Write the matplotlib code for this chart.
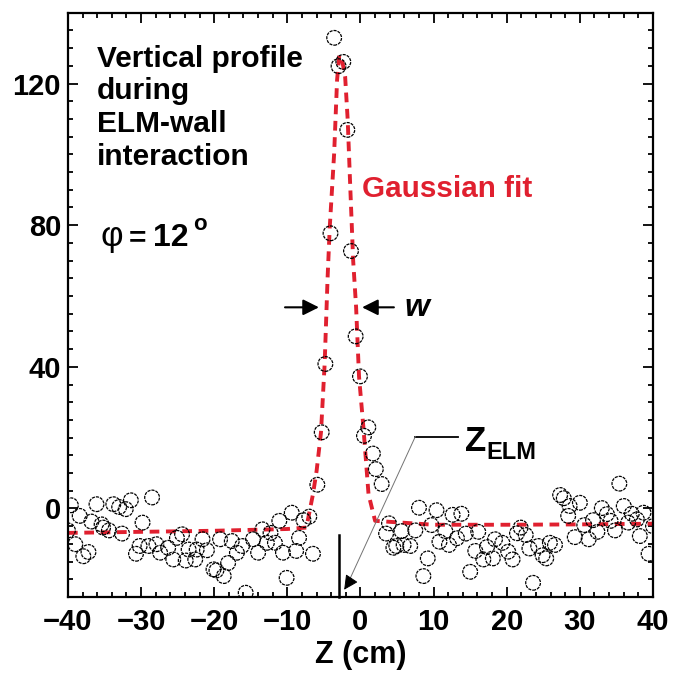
import matplotlib
matplotlib.use('Agg')
import matplotlib.pyplot as plt
from matplotlib import font_manager

# scattered points
z_pts = [-40.0, -39.6, -39.0, -38.4, -37.9, -37.2, -36.8, -36.1, -35.4, -35.2,
         -34.4, -33.8, -33.0, -32.6, -32.1, -31.4, -30.7, -30.2, -29.8, -29.0,
         -28.5, -27.9, -27.4, -26.3, -25.6, -25.1, -24.4, -23.9, -23.5, -22.6,
         -22.4, -21.6, -21.0, -20.1, -19.7, -19.2, -18.7, -18.1, -17.6, -16.9,
         -16.2, -15.7, -14.7, -14.0, -13.4, -12.8, -12.3, -11.7, -11.1, -10.6,
         -10.1, -9.4, -8.8, -8.4, -7.8, -7.0, -6.5, -5.9, -5.3, -4.8,
         -4.1, -3.6, -3.0, -2.35, -1.8, -1.3, -0.66, -0.07, 0.48, 1.07,
         1.7, 2.1, 2.9, 3.5, 3.9, 4.5, 4.9, 5.6, 5.9, 6.8,
         7.5, 8.0, 8.6, 9.2, 9.7, 10.4, 10.8, 11.6, 12.1, 12.6,
         13.2, 13.8, 14.4, 15.0, 15.7, 16.1, 16.8, 17.3, 18.1, 18.4,
         19.4, 20.2, 20.8, 21.4, 21.9, 22.6, 23.1, 23.6, 24.3, 24.9,
         25.4, 25.9, 26.6, 27.3, 27.8, 28.4, 28.6, 29.3, 30.0, 30.6,
         31.2, 31.8, 32.4, 33.0, 33.7, 34.2, 34.8, 35.4, 36.0, 36.6,
         37.1, 37.8, 38.2, 38.7, 39.4, 40.0]
sig_pts = [-6.2, 0.9, -10.1, -2.1, -13.5, -12.3, -3.7, 1.2, -4.5, -5.4,
           -6.2, 1.2, 0.4, -7.1, -0.2, 2.3, -12.8, -10.6, -4.0, -10.6,
           3.1, -10.1, -12.5, -11.1, -14.4, -8.3, -7.3, -14.7, -11.6, -14.4,
           -11.6, -8.7, -11.8, -17.2, -17.5, -8.7, -19.1, -15.4, -9.2, -12.5,
           -10.6, -23.8, -8.7, -12.5, -5.9, -9.7, -6.9, -9.7, -3.5, -12.5,
           -19.6, -1.2, -12.0, -8.3, -3.3, -2.3, -12.8, 6.7, 21.5, 40.8,
           77.7, 132.9, 124.9, 126.1, 106.9, 72.7, 48.6, 37.3, 20.5, 22.9,
           15.5, 11.1, 6.9, -7.1, -4.2, -11.1, -10.6, -6.4, -10.3, -10.6,
           -6.2, 0.2, -19.1, -14.1, -4.7, -0.5, -9.4, -6.4, -10.3, -1.8,
           -8.4, -1.5, -7.1, -17.9, -12.0, -6.6, -14.4, -10.9, -14.1, -8.7,
           -9.7, -12.2, -14.4, -7.0, -5.4, -7.5, -11.3, -21.0, -10.6, -13.2,
           -14.1, -9.7, -10.3, 3.8, 2.9, -2.1, 0.7, -8.1, 1.6, -4.7,
           -8.7, -3.3, -6.6, 0.1, -1.6, -3.5, -6.2, 7.0, 0.7, -4.0,
           -1.5, -3.1, -7.8, -1.2, -12.8, -5.0]

# dashed fit curve, vertices
fit_z = [-40, -30, -20, -10, -7.4, -6.5, -6.0, -5.4, -4.9, -4.5, -4.2, -3.6,
         -3.2, -2.9, -2.6, -2.1, -1.75, -1.4, -1.0, -0.6, -0.2, 0.4, 1.1, 2.0,
         10, 20, 30, 40]
fit_y = [-6.9, -6.6, -6.3, -5.8, -5.4, 4.0, 10.6, 21.5, 40.8, 65, 79.5, 100.3,
         121, 128, 127.5, 122, 109.8, 90.9, 70, 56.9, 37.3, 22.9, 4.0, -3.5,
         -4.6, -4.6, -4.5, -4.3]

xticks = [-40, -30, -20, -10, 0, 10, 20, 30, 40]
xlabels = ['\u221240', '\u221230', '\u221220', '\u221210', '0', '10', '20', '30', '40']
yticks = [0, 40, 80, 120]

names = {f.name for f in font_manager.fontManager.ttflist}
fam = 'Liberation Sans Narrow' if 'Liberation Sans Narrow' in names else 'Liberation Sans'
plt.rcParams['font.family'] = [fam, 'DejaVu Sans']
plt.rcParams['font.weight'] = 'bold'

red = '#e0202f'

fig = plt.figure(figsize=(6.79, 6.90), dpi=100)
ax = fig.add_axes([0.1001, 0.1348, 0.8616, 0.8468])

ax.plot(fit_z, fit_y, color=red, lw=2.8, dashes=(2.5, 1.7), zorder=2)
ax.scatter(z_pts, sig_pts, s=112, facecolors='none', edgecolors='black',
           linewidths=0.9, linestyles=(0, (2.5, 0.8)), zorder=3)

ax.set_xlim(-40, 40)
ax.set_ylim(-25, 140)
ax.set_xticks(xticks)
ax.set_xticklabels(xlabels)
ax.set_yticks(yticks)
ax.set_xticks(range(-40, 41, 2), minor=True)
ax.set_yticks(range(-25, 141, 5), minor=True)
ax.tick_params(which='both', direction='in', top=True, right=True, width=1.3,
               labelsize=21)
ax.tick_params(which='major', length=7)
ax.tick_params(which='minor', length=3.5)
ax.tick_params(axis='x', pad=8)
ax.tick_params(axis='y', pad=5)
for s in ax.spines.values():
    s.set_linewidth(1.6)
ax.set_xlabel('Z (cm)', fontsize=22, fontweight='bold', labelpad=3)

ax.text(-36.0, 131.0, 'Vertical profile\nduring\nELM-wall\ninteraction',
        fontsize=21.5, va='top', ha='left', linespacing=1.22)
ax.text(-35.6, 74.0, '\u03c6', fontsize=25, weight='normal', va='baseline')
ax.text(-31.7, 74.0, '=', fontsize=21.5, va='baseline')
ax.text(-28.4, 74.0, '12', fontsize=23, va='baseline')
ax.text(-22.9, 78.5, 'o', fontsize=16, va='baseline')
ax.text(0.2, 88.0, 'Gaussian fit', fontsize=21.3, color=red, va='baseline')

# width arrows
ax.annotate('', xy=(-5.3, 56.8), xytext=(-10.7, 56.8),
            arrowprops=dict(arrowstyle='-|>', color='black', lw=1.5, mutation_scale=24))
ax.annotate('', xy=(-0.16, 56.8), xytext=(4.95, 56.8),
            arrowprops=dict(arrowstyle='-|>', color='black', lw=1.5, mutation_scale=24))
ax.text(7.7, 56.5, 'w', fontsize=23, style='italic', ha='center', va='center')

# Z_ELM marker
ax.plot([-2.94, -2.94], [-7.5, -25], color='black', lw=1.8, clip_on=False)
ax.plot([7.5, 13.3], [20.3, 20.3], color='black', lw=1.3)
ax.plot([7.5, -1.8], [20.3, -21.5], color='0.45', lw=0.7)
ax.annotate('', xy=(-2.44, -23.6), xytext=(-1.6, -21.0),
            arrowprops=dict(arrowstyle='-|>', color='black', lw=0.7, mutation_scale=22))
ax.text(14.3, 16.3, 'Z', fontsize=25, va='baseline')
ax.text(17.2, 14.0, 'ELM', fontsize=17, va='baseline')

fig.savefig('out.png', dpi=100)
